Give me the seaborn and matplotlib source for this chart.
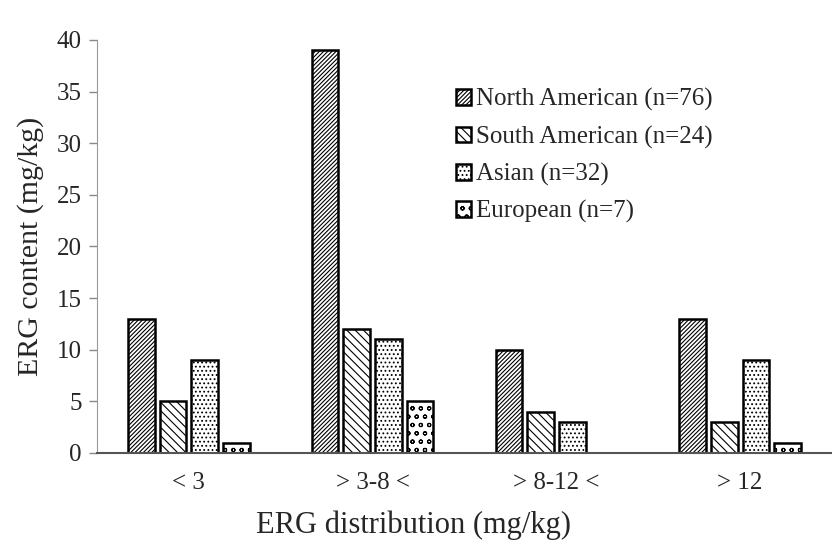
import matplotlib
matplotlib.use("Agg")
import matplotlib.pyplot as plt
import pandas as pd
import seaborn as sns

categories = ["< 3", "> 3-8 <", "> 8-12 <", "> 12"]
groups = ["North American (n=76)", "South American (n=24)", "Asian (n=32)", "European (n=7)"]
north_american = [13, 39, 10, 13]
south_american = [5, 12, 4, 3]
asian = [9, 11, 3, 9]
european = [1, 5, 0, 1]

values = [north_american, south_american, asian, european]
rows = []
for g, vals in zip(groups, values):
    for c, v in zip(categories, vals):
        rows.append({"dist": c, "group": g, "erg": v})
df = pd.DataFrame(rows)

sns.set_style("white")
plt.rcParams["font.family"] = ["Liberation Serif", "DejaVu Serif"]
plt.rcParams["hatch.linewidth"] = 0.8

fig = plt.figure(figsize=(8.32, 5.47), dpi=100)
ax = fig.add_axes([0.1166, 0.172, 0.8834, 0.755])

sns.barplot(data=df, x="dist", y="erg", hue="group", order=categories,
            hue_order=groups, width=0.69, gap=0.16,
            palette=["white"] * 4, edgecolor="black", linewidth=1.8,
            legend=False, ax=ax)

hatches = ["////////", "\\\\\\\\", "....", "oo"]
for cont, h in zip(ax.containers, hatches):
    for bar in cont:
        bar.set_hatch(h)
        bar.set_edgecolor("black")

ax.set_ylim(0, 40)
ax.set_yticks(range(0, 41, 5))
ax.set_xlim(-0.5, 3.5)
ax.set_xticks([-0.5, 0.5, 1.5, 2.5, 3.5], minor=True)
ax.tick_params(axis="x", which="major", length=0, labelsize=18, pad=14)
ax.tick_params(axis="x", which="minor", length=7, width=1, color="#555555", direction="out")
ax.tick_params(axis="y", length=6, width=1, color="#888888", labelsize=18,
               direction="out", left=True, pad=5)

for side in ["top", "right"]:
    ax.spines[side].set_visible(False)
ax.spines["left"].set_color("#999999")
ax.spines["bottom"].set_color("#555555")
ax.spines["bottom"].set_linewidth(1.5)

ax.set_xlabel("ERG distribution (mg/kg)", fontsize=22)
ax.xaxis.set_label_coords(0.431, -0.140)
ax.set_ylabel("ERG content (mg/kg)", fontsize=21.5, labelpad=9)

ax.legend(ax.containers, groups, frameon=False, fontsize=18,
          loc="upper left", bbox_to_anchor=(0.488, 0.883),
          borderaxespad=0, borderpad=0,
          handlelength=0.6, handleheight=0.6, handletextpad=0.2,
          labelspacing=0.57)

fig.savefig("out.png", dpi=100)
